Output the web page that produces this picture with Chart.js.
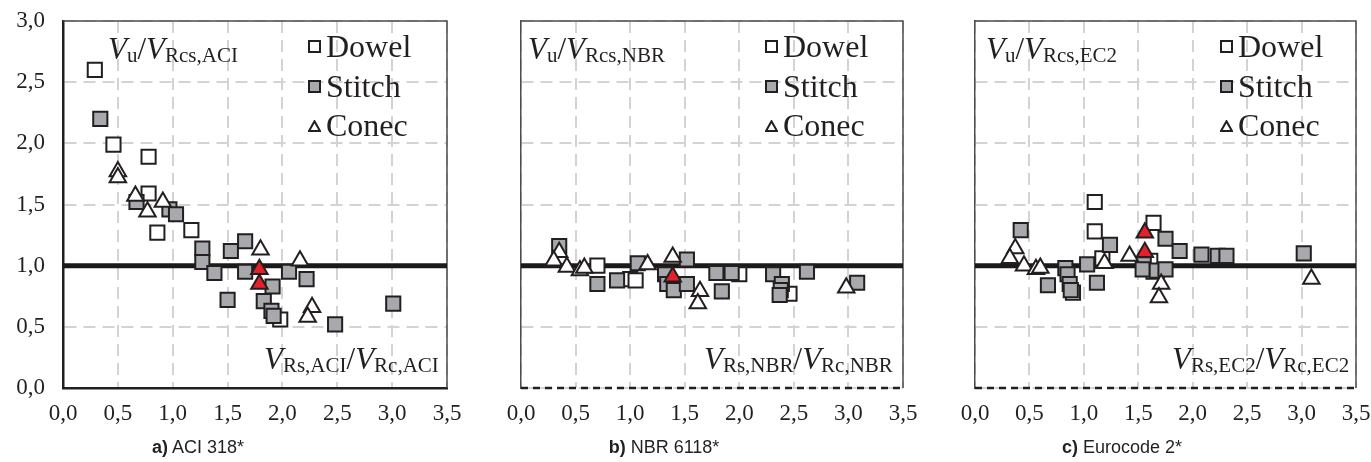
<!DOCTYPE html>
<html>
<head>
<meta charset="utf-8">
<script src="https://cdn.jsdelivr.net/npm/chart.js@4.4.1/dist/chart.umd.min.js"></script>
<style>
body{margin:0;background:#fff;width:1371px;height:462px;position:relative;overflow:hidden;font-family:"Liberation Serif",serif;color:#231f20}
canvas{position:absolute;top:0}
.txt{position:absolute;white-space:nowrap;line-height:1}
.ann{font-size:31px}
.ann i{font-style:italic}
.ann sub{font-size:21px;vertical-align:baseline;position:relative;top:3px}
.leg{font-size:32px}
.mk{display:inline-block;width:9px;height:9px;border:2px solid #231f20;margin-right:5px;vertical-align:middle;position:relative;top:-3px}
.tri{display:inline-block;margin-right:5px;vertical-align:middle;position:relative;top:-3px}
.cap{font-family:"Liberation Sans",Arial,sans-serif;font-size:18px;transform:translateX(-50%)}
</style>
</head>
<body>
<canvas id="ca" width="465" height="462" style="left:0px"></canvas>
<canvas id="cb" width="465" height="462" style="left:458px"></canvas>
<canvas id="cc" width="459" height="462" style="left:912px"></canvas>

<div class="txt ann" style="left:108px;top:33px"><i>V</i><sub>u</sub>/<i>V</i><sub>Rcs,ACI</sub></div>
<div class="txt ann" style="left:264px;top:343px"><i>V</i><sub>Rs,ACI</sub>/<i>V</i><sub>Rc,ACI</sub></div>
<div class="txt ann" style="left:528px;top:33px"><i>V</i><sub>u</sub>/<i>V</i><sub>Rcs,NBR</sub></div>
<div class="txt ann" style="left:704px;top:343px"><i>V</i><sub>Rs,NBR</sub>/<i>V</i><sub>Rc,NBR</sub></div>
<div class="txt ann" style="left:986px;top:33px"><i>V</i><sub>u</sub>/<i>V</i><sub>Rcs,EC2</sub></div>
<div class="txt ann" style="left:1172px;top:343px"><i>V</i><sub>Rs,EC2</sub>/<i>V</i><sub>Rc,EC2</sub></div>

<div id="legends"></div>

<div class="txt cap" style="left:198px;top:438px"><b>a)</b> ACI 318*</div>
<div class="txt cap" style="left:664px;top:438px"><b>b)</b> NBR 6118*</div>
<div class="txt cap" style="left:1122px;top:438px"><b>c)</b> Eurocode 2*</div>

<script>
// axis ticks
const xTicks = [0, 0.5, 1, 1.5, 2, 2.5, 3, 3.5];
const yTicks = [0, 0.5, 1, 1.5, 2, 2.5, 3];
const seriesNames = ['Dowel', 'Stitch', 'Conec'];

// a) ACI 318*
const aciDowel = [[0.29,2.60],[0.46,1.99],[0.78,1.89],[0.78,1.59],[0.86,1.27],[1.17,1.29],[1.98,0.56]];
const aciStitch = [[0.34,2.20],[0.67,1.52],[0.97,1.46],[1.03,1.42],[1.27,1.14],[1.27,1.03],[1.38,0.94],
  [1.50,0.72],[1.53,1.12],[1.66,1.20],[1.66,0.95],[1.91,0.83],[1.83,0.71],[1.90,0.63],[1.92,0.59],
  [2.06,0.95],[2.22,0.89],[2.48,0.52],[3.01,0.69]];
const aciConec = [[0.50,1.77],[0.50,1.72],[0.66,1.57],[0.77,1.44],[0.91,1.52],[1.80,1.13],[2.16,1.04],[2.27,0.66],[2.23,0.58]];
const aciRed = [[1.79,0.97],[1.79,0.85]];

// b) NBR 6118*
const nbrDowel = [[0.70,1.00],[1.00,0.89],[1.05,0.88],[2.00,0.93],[2.46,0.77]];
const nbrStitch = [[0.35,1.16],[0.70,0.85],[0.88,0.88],[1.07,1.02],[1.52,1.05],[1.32,0.93],[1.34,0.85],
  [1.40,0.80],[1.52,0.85],[1.79,0.94],[1.93,0.94],[1.84,0.79],[2.31,0.93],[2.39,0.85],[2.38,0.80],
  [2.37,0.76],[2.62,0.95],[3.08,0.86]];
const nbrConec = [[0.35,1.11],[0.30,1.04],[0.42,0.99],[0.54,0.96],[0.58,0.98],[1.16,1.01],[1.39,1.07],[1.64,0.79],[1.62,0.69],[2.98,0.82]];
const nbrRed = [[1.39,0.91]];

// c) Eurocode 2*
const ec2Dowel = [[1.10,1.52],[1.10,1.28],[1.64,1.35],[0.90,0.78],[1.17,1.06],[1.61,1.04],[1.64,0.95]];
const ec2Stitch = [[0.42,1.29],[1.24,1.17],[1.75,1.22],[1.88,1.12],[2.08,1.09],[2.23,1.08],[2.31,1.08],
  [3.02,1.10],[0.67,0.84],[0.83,0.98],[0.85,0.93],[0.87,0.85],[0.88,0.80],[1.03,1.01],[1.12,0.86],
  [1.55,1.01],[1.54,0.97],[1.67,0.96],[1.75,0.97]];
const ec2Conec = [[0.37,1.14],[0.32,1.06],[0.45,1.00],[0.56,0.97],[0.60,0.98],[1.19,1.02],[1.42,1.08],[3.09,0.89],[1.71,0.85],[1.69,0.74]];
const ec2Red = [[1.56,1.27],[1.56,1.11]];

const refLine = [[0, 1], [3.5, 1]];

const ink = '#231f20';
const pts = arr => arr.map(p => ({x: p[0], y: p[1]}));
const fmt = v => v.toFixed(1).replace('.', ',');

// top + right frame, dashed bottom for b and c
const framePlugin = {
  id: 'frame',
  beforeDatasetsDraw(chart, args, o) {
    const a = chart.chartArea, ctx = chart.ctx;
    ctx.save();
    ctx.strokeStyle = '#4d4d4f';
    ctx.lineWidth = 1.5;
    ctx.beginPath();
    ctx.moveTo(a.left, a.top); ctx.lineTo(a.right, a.top); ctx.lineTo(a.right, a.bottom);
    ctx.stroke();
    if (o.dashedBottom) {
      ctx.strokeStyle = ink;
      ctx.lineWidth = 2.5;
      ctx.setLineDash([7, 5]);
      ctx.beginPath();
      ctx.moveTo(a.left, a.bottom); ctx.lineTo(a.right, a.bottom);
      ctx.stroke();
    }
    ctx.restore();
  }
};

function panel(id, dowel, stitch, conec, red, first, padRight) {
  const mk = {pointRadius: 10, pointHoverRadius: 10, pointBorderWidth: 2, borderColor: ink, showLine: false};
  const tri = {pointRadius: 9.5, pointHoverRadius: 9.5, pointBorderWidth: 2, borderColor: ink, showLine: false, pointStyle: 'triangle'};
  new Chart(document.getElementById(id), {
    type: 'scatter',
    data: {
      datasets: [
        Object.assign({label: 'red', data: pts(red), backgroundColor: '#e3202b', order: 0}, tri),
        Object.assign({label: 'Conec', data: pts(conec), backgroundColor: '#fff', order: 1}, tri),
        Object.assign({label: 'Stitch', data: pts(stitch), backgroundColor: '#a7a9ac', pointStyle: 'rect', order: 2}, mk),
        Object.assign({label: 'Dowel', data: pts(dowel), backgroundColor: '#fff', pointStyle: 'rect', order: 3}, mk),
        {type: 'line', label: 'ref', data: pts(refLine), borderColor: '#1a1a1a', borderWidth: 5,
         borderCapStyle: 'round', pointRadius: 0, order: 4}
      ]
    },
    options: {
      responsive: false,
      animation: false,
      events: [],
      layout: {padding: {top: 21, right: padRight, bottom: 34, left: 0}},
      plugins: {legend: {display: false}, tooltip: {enabled: false}, frame: {dashedBottom: !first}},
      scales: {
        x: {
          type: 'linear', min: 0, max: 3.5,
          afterBuildTicks: s => { s.ticks = xTicks.map(v => ({value: v})); },
          afterFit: s => { s.height = 40; s.paddingLeft = 0; s.paddingRight = 0; },
          grid: {color: '#d2d3d5', lineWidth: 2, drawTicks: false},
          border: {display: first, color: ink, width: 2.5, dash: [12, 7]},
          ticks: {padding: 12, color: ink, font: {family: 'Liberation Serif', size: 23}, callback: fmt, maxRotation: 0}
        },
        y: {
          type: 'linear', min: 0, max: 3,
          afterBuildTicks: s => { s.ticks = yTicks.map(v => ({value: v})); },
          afterFit: s => { s.width = 63; s.paddingTop = 0; s.paddingBottom = 0; },
          grid: {color: '#d2d3d5', lineWidth: 2, drawTicks: false},
          border: {color: first ? ink : '#4d4d4f', width: first ? 2.5 : 1.5, dash: [12, 7]},
          ticks: {display: first, padding: 18, color: ink, font: {family: 'Liberation Serif', size: 23}, callback: fmt}
        }
      }
    },
    plugins: [framePlugin]
  });
}

panel('ca', aciDowel, aciStitch, aciConec, aciRed, true, 18);
panel('cb', nbrDowel, nbrStitch, nbrConec, nbrRed, false, 20);
panel('cc', ec2Dowel, ec2Stitch, ec2Conec, ec2Red, false, 15);

// legends (same three entries in each panel)
const legendLeft = [308, 765, 1220];
const legendTop = [30, 70, 109];
const triSvg = '<svg class="tri" width="13" height="12" viewBox="0 0 13 12"><polygon points="6.5,1.2 12,11 1,11" fill="#fff" stroke="' + ink + '" stroke-width="2"/></svg>';
let html = '';
legendLeft.forEach(left => {
  seriesNames.forEach((name, i) => {
    let marker;
    if (i === 0) marker = '<span class="mk" style="background:#fff"></span>';
    else if (i === 1) marker = '<span class="mk" style="background:#a7a9ac"></span>';
    else marker = triSvg;
    html += '<div class="txt leg" style="left:' + left + 'px;top:' + legendTop[i] + 'px">' + marker + name + '</div>';
  });
});
document.getElementById('legends').innerHTML = html;
</script>
</body>
</html>
